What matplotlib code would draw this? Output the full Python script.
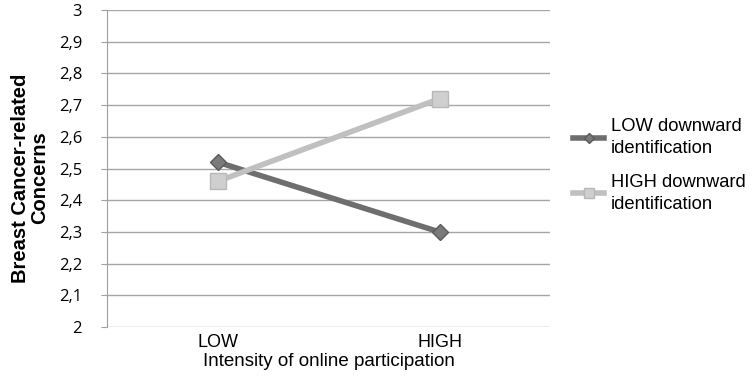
import matplotlib.pyplot as plt

categories = ["LOW", "HIGH"]
low_ident = [2.52, 2.30]
high_ident = [2.46, 2.72]
series_names = ["LOW downward\nidentification", "HIGH downward\nidentification"]
yticks = [2.0, 2.1, 2.2, 2.3, 2.4, 2.5, 2.6, 2.7, 2.8, 2.9, 3.0]

fig = plt.figure(figsize=(7.54, 3.8), dpi=100)
ax = fig.add_axes([0.142, 0.139, 0.588, 0.835])

x = range(len(categories))
ax.plot(x, low_ident, color="#6e6e6e", lw=4, marker="D", ms=8,
        mfc="#7a7a7a", mec="#5a5a5a", mew=1, label=series_names[0], zorder=3)
ax.plot(x, high_ident, color="#c0c0c0", lw=4, marker="s", ms=11,
        mfc="#cfcfcf", mec="#b8b8b8", mew=1, label=series_names[1], zorder=3)

ax.set_xlim(-0.5, 1.5)
ax.set_ylim(2, 3)
ax.set_yticks(yticks)
ax.set_yticklabels([("%g" % v).replace(".", ",") for v in yticks],
                   fontfamily="Open Sans", fontsize=12)
ax.set_xticks(list(x))
ax.set_xticklabels(categories, fontfamily="Liberation Sans", fontsize=13)
ax.tick_params(axis="x", length=0, pad=5)
ax.tick_params(axis="y", length=4, color="#a0a0a0", pad=14)

ax.grid(axis="y", color="#a6a6a6", lw=1)
ax.set_axisbelow(True)
for s in ["top", "right", "bottom"]:
    ax.spines[s].set_visible(False)
ax.spines["left"].set_color("#a0a0a0")

ax.set_xlabel("Intensity of online participation", fontfamily="Liberation Sans",
              fontsize=13.5, labelpad=1)
ax.set_ylabel("Breast Cancer-related\nConcerns", fontfamily="Liberation Sans",
              fontsize=14.5, fontweight="bold", linespacing=1.05)
ax.yaxis.set_label_coords(-0.13, 0.47)

leg = ax.legend(loc="center left", bbox_to_anchor=(1.014, 0.51), frameon=False,
                prop={"family": "Liberation Sans", "size": 13.2}, handlelength=1.7,
                handletextpad=0.35, labelspacing=0.9, markerscale=0.6)
for t in leg.get_texts():
    t.set_linespacing(1.4)

fig.savefig("out.png", dpi=100)
